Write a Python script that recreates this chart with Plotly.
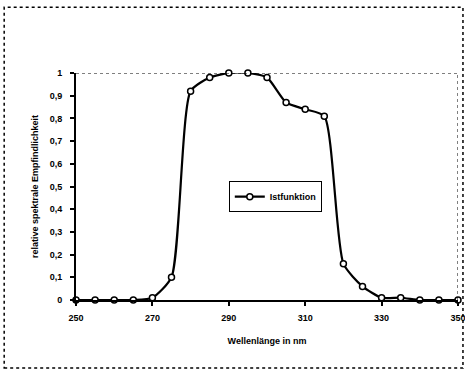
import plotly.graph_objects as go

wavelength = [250, 255, 260, 265, 270, 275, 280, 285, 290, 295, 300, 305, 310, 315, 320, 325, 330, 335, 340, 345, 350]
sensitivity = [0.0, 0.0, 0.0, 0.0, 0.01, 0.10, 0.92, 0.98, 1.0, 1.0, 0.98, 0.87, 0.84, 0.81, 0.16, 0.06, 0.01, 0.01, 0.0, 0.0, 0.0]
x_ticks = [250, 270, 290, 310, 330, 350]
y_ticks = [0, 0.1, 0.2, 0.3, 0.4, 0.5, 0.6, 0.7, 0.8, 0.9, 1]
y_ticklabels = ["0", "0,1", "0,2", "0,3", "0,4", "0,5", "0,6", "0,7", "0,8", "0,9", "1"]

FONT = "Liberation Sans, Arial, sans-serif"

fig = go.Figure()
fig.add_trace(go.Scatter(
    x=wavelength, y=sensitivity, mode="lines+markers", name="<b>Istfunktion</b>",
    line=dict(color="black", width=2.2, shape="spline", smoothing=0.6),
    marker=dict(symbol="circle", size=6, color="white", line=dict(color="black", width=1.5)),
    cliponaxis=False,
))

fig.update_layout(
    width=465, height=371,
    margin=dict(l=76, r=7, t=73, b=71, autoexpand=False),
    paper_bgcolor="white", plot_bgcolor="white",
    font=dict(family=FONT, size=9, color="black"),
    showlegend=True,
    legend=dict(x=0.40, y=0.455, xanchor="left", yanchor="middle",
                bgcolor="white", bordercolor="black", borderwidth=1,
                font=dict(size=9, family=FONT), itemwidth=30),
    xaxis=dict(range=[250, 350], tickvals=x_ticks, ticktext=[f"<b>{v}</b>" for v in x_ticks],
               showgrid=False, zeroline=False, showline=True, linecolor="black", linewidth=2,
               ticks="outside", ticklen=4, tickwidth=1.5, tickcolor="black", automargin=False,
               ticklabeloverflow="allow", ticklabelstandoff=4,
               title=dict(text="<b>Wellenlänge in nm</b>", font=dict(size=9, family=FONT), standoff=16)),
    yaxis=dict(range=[0, 1], tickvals=y_ticks, ticktext=[f"<b>{t}</b>" for t in y_ticklabels],
               showgrid=False, zeroline=False, showline=True, linecolor="black", linewidth=2,
               ticks="outside", ticklen=4, tickwidth=1.5, tickcolor="black", automargin=False,
               ticklabelstandoff=6,
               title=dict(text="<b>relative spektrale Empfindlichkeit</b>", font=dict(size=9, family=FONT), standoff=10)),
    shapes=[
        dict(type="line", xref="x", yref="y", x0=250, x1=350, y0=1, y1=1,
             line=dict(color="black", width=1, dash="dot")),
        dict(type="line", xref="x", yref="y", x0=350, x1=350, y0=0, y1=1,
             line=dict(color="black", width=1, dash="dot")),
        dict(type="rect", xref="paper", yref="paper", x0=-0.188, x1=1.013, y0=-0.30, y1=1.29,
             line=dict(color="black", width=1.5, dash="dot")),
    ],
)

fig.write_html("out.html")
